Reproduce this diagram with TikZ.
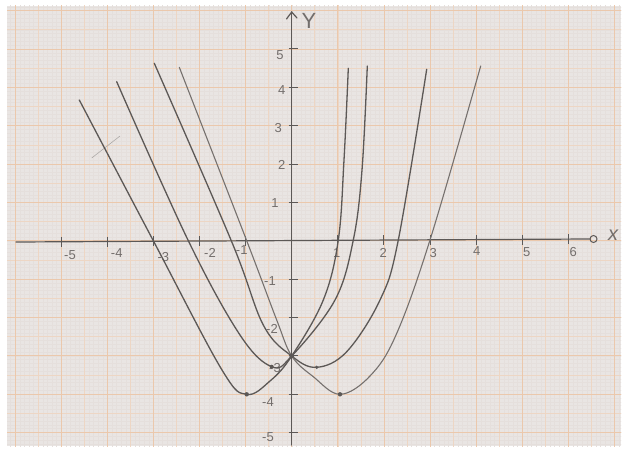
\documentclass[tikz,border=0pt]{standalone}
\usepackage{fontspec}
\setmainfont{Liberation Sans}
\definecolor{paper}{RGB}{233,229,227}
\definecolor{fineg}{RGB}{229,223,220}
\definecolor{halfg}{RGB}{237,214,196}
\definecolor{unitg}{RGB}{235,200,172}
\definecolor{pencilc}{RGB}{92,88,86}
\definecolor{pencill}{RGB}{118,113,110}
\definecolor{labelc}{RGB}{115,110,108}
\begin{document}
\begin{tikzpicture}[x=1pt,y=-1pt,
  pencil/.style={draw=pencilc, line width=1.3pt, line cap=round, line join=round},
  pencilthin/.style={draw=pencill, line width=1.1pt, line cap=round, line join=round},
  axisline/.style={draw=pencilc, line width=1.2pt, line cap=round},
  tick/.style={draw=pencilc, line width=1pt},
  lbl/.style={text=labelc, font=\fontsize{13}{13}\selectfont, inner sep=0pt},
  dot/.style={fill=pencilc}]
\useasboundingbox (0,0) rectangle (628,449);
\fill[white] (0,0) rectangle (628,449);
\fill[paper] (7,6) rectangle (621,446);
\begin{scope}
  \clip (7,6) rectangle (621,446);
  \foreach \i in {-62,...,72} {\draw[fineg, line width=0.3pt] ({291.7+4.61*\i},0) -- ({291.7+4.61*\i},449);}
  \foreach \i in {-62,...,54} {\draw[fineg, line width=0.3pt] (0,{240.7+3.835*\i}) -- (628,{240.7+3.835*\i});}
  \foreach \i in {-13,...,15} {\draw[halfg, line width=0.6pt] ({291.7+23.05*\i},0) -- ({291.7+23.05*\i},449);}
  \foreach \i in {-13,...,11} {\draw[halfg, line width=0.6pt] (0,{240.7+19.175*\i}) -- (628,{240.7+19.175*\i});}
  \foreach \i in {-7,...,8} {\draw[unitg, line width=0.8pt] ({291.7+46.1*\i},0) -- ({291.7+46.1*\i},449);}
  \foreach \i in {-7,...,6} {\draw[unitg, line width=0.8pt] (0,{240.7+38.35*\i}) -- (628,{240.7+38.35*\i});}
\end{scope}

% axes
\coordinate (xl) at (16,242.0);
\node[circle, draw=pencilc, line width=1pt, minimum size=7pt, inner sep=0pt] (xo) at (593.5,239.0) {};
\draw[axisline] (xl) -- (xo.west);
\coordinate (yb) at (291.7,445);
\coordinate (yt) at (291.7,12);
\draw[axisline] (yb) -- (yt);
\draw[axisline] (286.5,19) -- (yt) -- (297,18);

% x ticks
\foreach \k in {-5,-4,-3,-2,-1,1,2,3,4,5,6}
  {\draw[tick] ({291.7+46.1*\k},{240.7-0.0047*46.1*\k-5}) -- ++(0,10);}
% y ticks
\foreach \k in {-5,-4,-3,-2,-1,1,2,3,4,5}
  {\draw[tick] (288.5,{240.7-38.35*\k}) -- (297.5,{240.7-38.35*\k});}

% x labels
\node[lbl] (lxm5) at (70,255) {-5};
\node[lbl] (lxm4) at (116.7,252.7) {-4};
\node[lbl] (lxm3) at (163.3,256.7) {-3};
\node[lbl] (lxm2) at (210,252.7) {-2};
\node[lbl] (lxm1) at (241.7,250.3) {-1};
\node[lbl] (lx1) at (336.7,252.7) {1};
\node[lbl] (lx2) at (383.3,253.3) {2};
\node[lbl] (lx3) at (433.3,253.3) {3};
\node[lbl] (lx4) at (476.7,251) {4};
\node[lbl] (lx5) at (526.7,252) {5};
\node[lbl] (lx6) at (573.3,252) {6};
% y labels
\node[lbl] (ly5) at (280,55) {5};
\node[lbl] (ly4) at (281.7,90) {4};
\node[lbl] (ly3) at (278.3,128) {3};
\node[lbl] (ly2) at (281.7,165) {2};
\node[lbl] (ly1) at (275,203) {1};
\node[lbl] (lym1) at (270,281) {-1};
\node[lbl] (lym2) at (272,329) {-2};
\node[lbl] (lym3) at (275,368) {-3};
\node[lbl] (lym4) at (268,402) {-4};
\node[lbl] (lym5) at (268,437) {-5};
\node[lbl, font=\fontsize{22}{22}\selectfont] (ylab) at (309,21) {Y};
\node[lbl, font=\fontsize{20}{20}\itshape] (xlab) at (613,235) {x};

% stray mark
\draw[draw=pencill!60, line width=0.6pt] (91.7,158) -- (120,136);

% curves
\draw[pencil] plot[smooth, tension=0.6] coordinates {
 (79.3,100) (153.3,240.7) (222,370) (246.7,394.3) (270,381) (291.7,356)
 (323.3,300) (338.3,240) (344,160) (348.3,68.3)};
\draw[pencil] plot[smooth, tension=0.6] coordinates {
 (116.7,81.7) (188.3,240.7) (240,335) (271.7,366.7) (291.7,356)
 (335,300) (353.3,240) (362,170) (367.3,66)};
\draw[pencil] plot[smooth, tension=0.6] coordinates {
 (154.3,63.3) (231.7,241.7) (263.3,325) (291.7,356) (316.7,367.3)
 (346.7,351.7) (380,300) (398.3,240) (426.7,69.3)};
\draw[pencilthin] plot[smooth, tension=0.6] coordinates {
 (179.3,67.3) (246.7,240.7) (276.7,320) (291.7,356) (313.3,376.7)
 (340,394.3) (370,376) (396,335) (430,240) (480.7,66)};

% marked points
\fill[dot] (246.7,394.3) circle (2.2);
\fill[dot] (271.7,366.7) circle (2);
\fill[dot] (291.7,356) circle (2.4);
\fill[dot] (316.7,367.3) circle (1.8);
\fill[dot] (340,394.3) circle (2.2);
\end{tikzpicture}
\end{document}
